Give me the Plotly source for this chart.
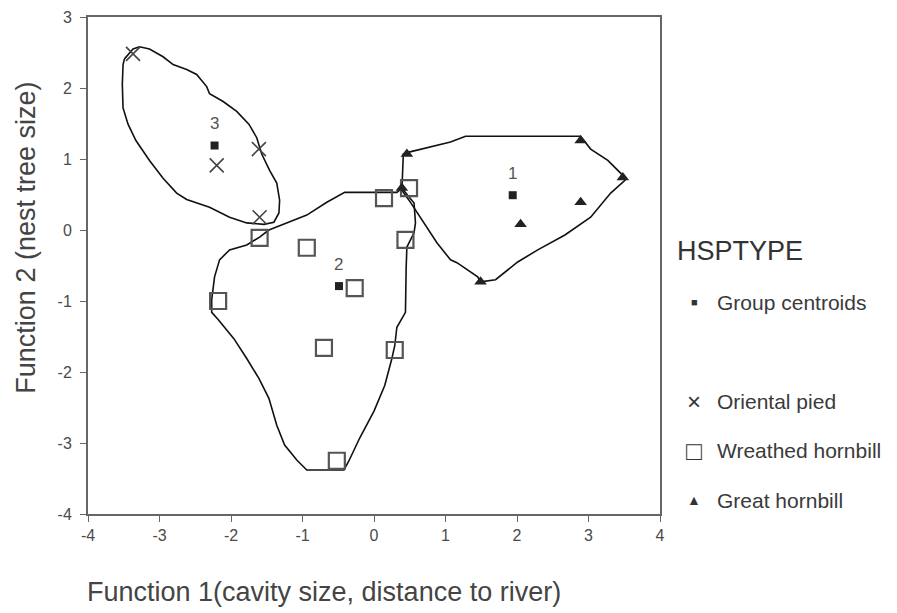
import plotly.graph_objects as go

# ---- data ----
pied_x = [-3.37, -2.20, -1.61, -1.60]
pied_y = [2.48, 0.91, 1.14, 0.18]

wreathed_x = [-1.60, -0.94, -2.18, -0.27, -0.70, 0.29, -0.52, 0.14, 0.49, 0.44]
wreathed_y = [-0.11, -0.25, -1.00, -0.82, -1.66, -1.69, -3.25, 0.45, 0.59, -0.14]

great_x = [0.46, 2.89, 3.48, 2.89, 2.05, 1.49, 0.39]
great_y = [1.07, 1.26, 0.74, 0.39, 0.08, -0.73, 0.59]

centroid_x = [1.94, -0.49, -2.23]
centroid_y = [0.49, -0.79, 1.19]
centroid_labels = ["1", "2", "3"]

# territorial outlines
out3_x = [-3.49, -3.37, -3.28, -3.14, -2.95, -2.81, -2.62, -2.48, -2.34, -2.30, -2.11, -1.92, -1.75,
          -1.64, -1.57, -1.46, -1.36, -1.32, -1.33, -1.40, -1.54, -1.78, -2.02, -2.30, -2.62, -2.76,
          -2.95, -3.14, -3.33, -3.44, -3.51, -3.52, -3.51, -3.49]
out3_y = [2.41, 2.55, 2.58, 2.55, 2.44, 2.33, 2.26, 2.19, 2.02, 1.92, 1.81, 1.67, 1.49,
          1.30, 1.07, 0.84, 0.66, 0.42, 0.24, 0.11, 0.08, 0.10, 0.18, 0.32, 0.43, 0.52,
          0.73, 0.98, 1.26, 1.49, 1.72, 2.05, 2.33, 2.41]

out2_x = [-1.47, -0.94, -0.66, -0.41, 0.32, 0.39, 0.56, 0.58, 0.56, 0.46, 0.45, 0.44, 0.32, 0.29,
          0.25, 0.15, 0.00, -0.20, -0.35, -0.42, -0.94, -1.08, -1.25, -1.36, -1.47, -1.61, -1.78,
          -1.96, -2.18, -2.27, -2.27, -2.23, -2.16, -2.02, -1.78, -1.60, -1.47]
out2_y = [0.00, 0.21, 0.39, 0.53, 0.53, 0.59, 0.38, 0.10, -0.04, -0.24, -0.52, -1.16, -1.37, -1.63,
          -1.81, -2.19, -2.55, -2.93, -3.25, -3.38, -3.38, -3.24, -3.03, -2.75, -2.37, -2.09, -1.81,
          -1.53, -1.26, -1.16, -0.98, -0.66, -0.42, -0.28, -0.21, -0.10, 0.00]

out1_x = [0.39, 0.41, 0.46, 0.88, 1.07, 1.28, 2.89, 3.03, 3.27, 3.48, 3.51, 3.31, 3.03, 2.67, 2.29,
          2.01, 1.70, 1.49, 1.45, 1.16, 1.07, 0.88, 0.65, 0.49, 0.39]
out1_y = [0.56, 1.07, 1.09, 1.19, 1.24, 1.32, 1.32, 1.14, 0.98, 0.77, 0.70, 0.52, 0.18, -0.07, -0.28,
          -0.45, -0.70, -0.73, -0.66, -0.46, -0.42, -0.18, 0.18, 0.42, 0.56]

x_ticks = [-4, -3, -2, -1, 0, 1, 2, 3, 4]
y_ticks = [-4, -3, -2, -1, 0, 1, 2, 3]

legend_title = "HSPTYPE"
legend_names = ["Group centroids", "Oriental pied", "Wreathed hornbill", "Great hornbill"]

FONT = "Liberation Sans, Arial, sans-serif"

fig = go.Figure()

for ox, oy in [(out3_x, out3_y), (out2_x, out2_y), (out1_x, out1_y)]:
    fig.add_trace(go.Scatter(x=ox, y=oy, mode="lines",
                             line=dict(color="#111111", width=1.6),
                             hoverinfo="skip", showlegend=False))

fig.add_trace(go.Scatter(x=pied_x, y=pied_y, mode="markers", showlegend=False,
                         marker=dict(symbol="x-thin", size=14,
                                     line=dict(color="#444444", width=1.6))))
fig.add_trace(go.Scatter(x=wreathed_x, y=wreathed_y, mode="markers", showlegend=False,
                         marker=dict(symbol="square-open", size=16, color="#555555",
                                     line=dict(color="#555555", width=2.2))))
fig.add_trace(go.Scatter(x=great_x, y=great_y, mode="markers", showlegend=False,
                         marker=dict(symbol="triangle-up", size=11, color="#222222")))
fig.add_trace(go.Scatter(x=centroid_x, y=centroid_y, mode="markers", showlegend=False,
                         marker=dict(symbol="square", size=8, color="#222222")))

annotations = []
for cx, cy, lab in zip(centroid_x, centroid_y, centroid_labels):
    annotations.append(dict(x=cx, y=cy, xref="x", yref="y", text=lab, showarrow=False,
                            yshift=22, font=dict(family=FONT, size=17, color="#555555")))

# manual legend (paper coordinates)
annotations.append(dict(x=1.0, y=0.530, xref="paper", yref="paper", text=legend_title,
                        showarrow=False, xanchor="left", yanchor="middle", xshift=15,
                        font=dict(family=FONT, size=27, color="#333333")))

leg_y = [0.426, 0.227, 0.127, 0.028]
leg_sym = ["■", "×", "□", "▲"]
leg_sym_size = [11, 24, 26, 14]
for name, ly, sym, ss in zip(legend_names, leg_y, leg_sym, leg_sym_size):
    annotations.append(dict(x=1.0, y=ly, xref="paper", yref="paper", text=sym,
                            showarrow=False, xanchor="center", yanchor="middle", xshift=34,
                            font=dict(family=FONT, size=ss, color="#333333")))
    annotations.append(dict(x=1.0, y=ly, xref="paper", yref="paper", text=name,
                            showarrow=False, xanchor="left", yanchor="middle", xshift=55,
                            font=dict(family=FONT, size=21, color="#3a3a3a")))

# axis titles
annotations.append(dict(x=0.0, y=0.0, xref="paper", yref="paper",
                        text="Function 1(cavity size, distance to river)",
                        showarrow=False, xanchor="left", yanchor="middle",
                        xshift=-3, yshift=-78,
                        font=dict(family=FONT, size=27, color="#444444")))
annotations.append(dict(x=0.0, y=0.556, xref="paper", yref="paper",
                        text="Function 2 (nest tree size)", textangle=-90,
                        showarrow=False, xanchor="center", yanchor="middle",
                        xshift=-62,
                        font=dict(family=FONT, size=27, color="#444444")))

axis_common = dict(showgrid=False, zeroline=False, showline=True, linecolor="#666666",
                   linewidth=2, mirror=True, ticks="outside", ticklen=6,
                   tickcolor="#666666", automargin=False, ticklabeloverflow="allow",
                   tickfont=dict(family=FONT, size=16, color="#4a4a4a"))

fig.update_layout(
    width=897, height=613,
    margin=dict(l=80, r=245, t=9, b=107),
    paper_bgcolor="white", plot_bgcolor="white",
    showlegend=False,
    annotations=annotations,
    font=dict(family=FONT, size=16, color="#555555"),
    xaxis=dict(range=[-4, 4], tickvals=x_ticks, ticktext=[str(v) for v in x_ticks],
               **axis_common),
    yaxis=dict(range=[-4, 3], tickvals=y_ticks, ticktext=[str(v) for v in y_ticks],
               ticklabelstandoff=5, **axis_common),
)

fig.write_html("out.html")
